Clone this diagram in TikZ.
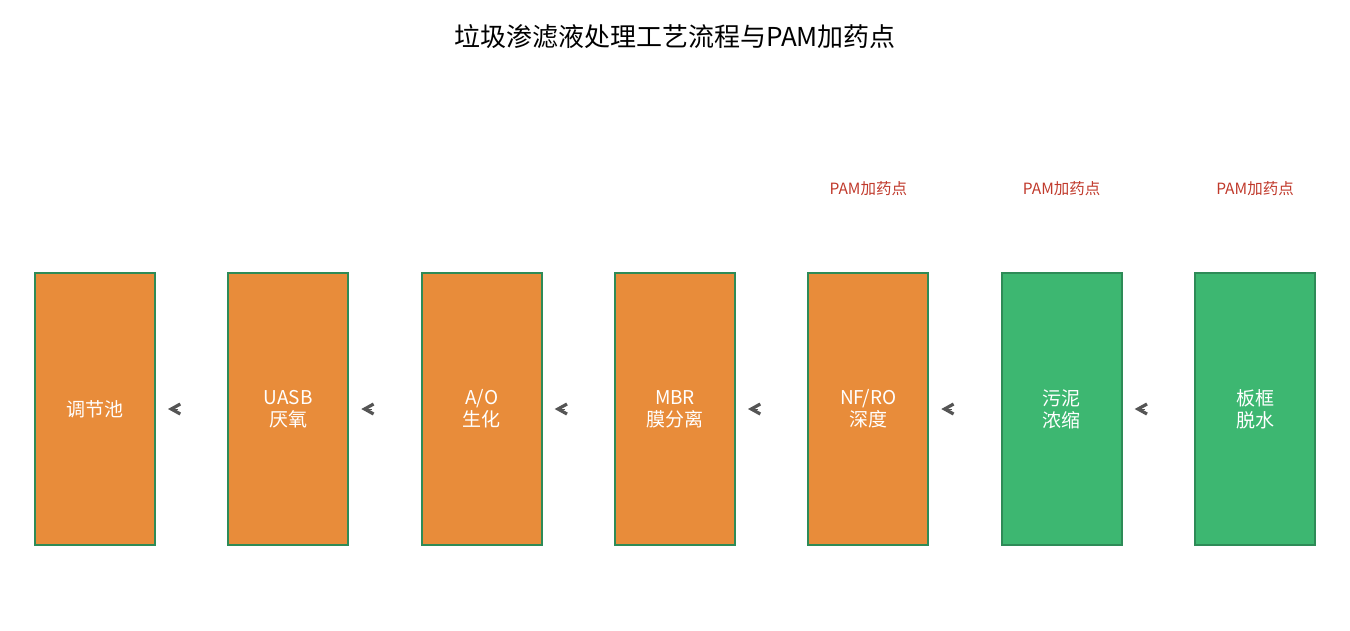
\documentclass[tikz,border=0pt]{standalone}
\usepackage{fontspec}
\setmainfont{Noto Sans CJK SC}
\usetikzlibrary{arrows.meta}
\definecolor{stepor}{HTML}{E88C3A}
\definecolor{stepgr}{HTML}{3DB771}
\definecolor{stepedge}{HTML}{2E8B57}
\definecolor{pamred}{HTML}{C0392B}
\definecolor{flowgray}{HTML}{555555}
\tikzset{
  stepbox/.style={draw=stepedge, line width=2pt, minimum width=120pt, minimum height=272pt,
    align=center, text=white, font=\fontsize{19}{22}\selectfont},
  flow/.style={draw=flowgray, line width=0.5pt, -{Straight Barb[length=9pt,width=10pt,line width=3.2pt]},
    shorten >=12pt, shorten <=49pt},
  pam/.style={text=pamred, font=\fontsize{15.5}{17}\selectfont}
}
\begin{document}
\begin{tikzpicture}[x=1pt, y=-1pt]
        \useasboundingbox (0, 0) rectangle (1350, 630);
        \node[font=\fontsize{26}{28}\selectfont] (title) at (675, 37) {垃圾渗滤液处理工艺流程与PAM加药点};
        \node[stepbox, fill=stepor] (1) at (95, 409) {调节池};
        \node[stepbox, fill=stepor] (2) at (288.3, 409) {UASB\\厌氧};
        \node[stepbox, fill=stepor] (3) at (481.7, 409) {A/O\\生化};
        \node[stepbox, fill=stepor] (4) at (675, 409) {MBR\\膜分离};
        \node[stepbox, fill=stepor] (5) at (868.3, 409) {NF/RO\\深度};
        \node[stepbox, fill=stepgr] (6) at (1061.7, 409) {污泥\\浓缩};
        \node[stepbox, fill=stepgr] (7) at (1255, 409) {板框\\脱水};
        \node[pam] (p5) at (868.3, 189) {PAM加药点};
        \node[pam] (p6) at (1061.7, 189) {PAM加药点};
        \node[pam] (p7) at (1255, 189) {PAM加药点};
        \draw[flow] (2) -- (1);
        \draw[flow] (3) -- (2);
        \draw[flow] (4) -- (3);
        \draw[flow] (5) -- (4);
        \draw[flow] (6) -- (5);
        \draw[flow] (7) -- (6);
    \end{tikzpicture}
\end{document}
